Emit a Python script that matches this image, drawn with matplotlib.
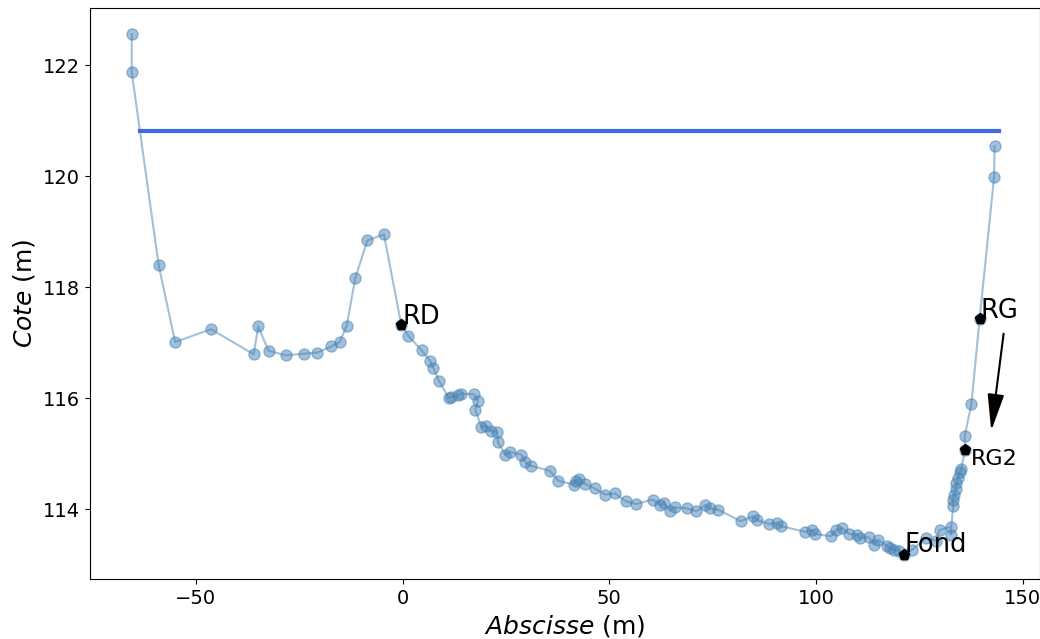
import matplotlib
matplotlib.use('Agg')
import matplotlib.pyplot as plt

# profil en travers (abscisse en m, cote en m)
abscisse = [-65.5, -65.5, -59.0, -55.0, -46.3, -36.0, -34.9, -32.4, -28.1, -23.9,
            -20.6, -17.2, -15.2, -13.5, -11.4, -8.5, -4.5, -0.3, 1.45, 4.6,
            6.7, 7.4, 8.9, 11.2, 11.8, 13.4, 14.2, 17.2, 18.3, 17.6,
            19.1, 20.2, 21.5, 22.9, 23.1, 24.9, 26.1, 28.7, 29.7, 31.0,
            35.6, 37.7, 41.4, 41.9, 42.7, 44.1, 46.5, 49.1, 51.4, 54.0,
            56.5, 60.5, 62.4, 63.2, 64.7, 65.8, 68.8, 71.1, 73.2, 74.3,
            76.3, 81.8, 84.8, 85.8, 88.6, 90.5, 91.6, 97.4, 99.1, 99.8,
            103.6, 104.9, 106.3, 108.1, 110.0, 110.6, 112.8, 114.0, 115.0, 117.2,
            117.8, 118.8, 120.0, 121.3, 123.3, 126.7, 129.1, 129.9, 132.6, 132.6,
            133.2, 133.2, 133.5, 133.8, 134.0, 134.4, 134.8, 135.2, 136.0, 136.0,
            137.6, 139.6, 143.1, 143.2]
cote = [122.56, 121.88, 118.40, 117.01, 117.24, 116.79, 117.29, 116.85, 116.77, 116.80,
        116.82, 116.93, 117.01, 117.30, 118.17, 118.84, 118.95, 117.32, 117.12, 116.86,
        116.67, 116.55, 116.30, 116.00, 116.02, 116.05, 116.08, 116.07, 115.95, 115.79,
        115.48, 115.50, 115.40, 115.39, 115.20, 114.97, 115.03, 114.98, 114.84, 114.78,
        114.69, 114.51, 114.44, 114.51, 114.55, 114.45, 114.37, 114.26, 114.28, 114.14,
        114.09, 114.17, 114.07, 114.11, 113.97, 114.03, 114.01, 113.96, 114.07, 114.01,
        113.99, 113.78, 113.87, 113.80, 113.73, 113.75, 113.69, 113.59, 113.62, 113.55,
        113.51, 113.62, 113.66, 113.55, 113.54, 113.48, 113.49, 113.36, 113.45, 113.33,
        113.30, 113.27, 113.25, 113.18, 113.27, 113.48, 113.43, 113.62, 113.68, 113.54,
        114.05, 114.17, 114.26, 114.36, 114.47, 114.56, 114.66, 114.72, 115.06, 115.32,
        115.89, 117.43, 119.99, 120.54]

# niveau d'eau
niveau_x = [-63.4, 144.4]
niveau = 120.82

# points remarquables
noms = ['RD', 'RG', 'Fond', 'RG2']
pts_x = [-0.3, 139.6, 121.3, 136.0]
pts_y = [117.32, 117.43, 113.18, 115.06]

fig = plt.figure(figsize=(10.4, 6.39), dpi=100)
ax = fig.add_axes([0.0861, 0.094, 0.9139, 0.8935])

ax.plot(abscisse, cote, '-o', color='steelblue', alpha=0.5, markersize=8, lw=1.5)
ax.plot(niveau_x, [niveau, niveau], color='royalblue', lw=3)
ax.plot(pts_x, pts_y, 'p', color='black', markersize=8)

ax.text(pts_x[0] + 0.2, pts_y[0] + 0.02, noms[0], fontsize=18.5)
ax.text(pts_x[1] + 0.2, pts_y[1] + 0.02, noms[1], fontsize=18.5)
ax.text(pts_x[2] + 0.2, pts_y[2] + 0.04, noms[2], fontsize=18.5)
ax.text(pts_x[3] + 1.6, pts_y[3] - 0.26, noms[3], fontsize=16)

ax.annotate('', xy=(142.4, 115.41), xytext=(145.4, 117.16),
            arrowprops=dict(arrowstyle='-|>,head_length=0.75,head_width=0.17',
                            color='black', lw=1.5, mutation_scale=30,
                            shrinkA=0, shrinkB=0))

ax.set_xlim(-75.7, 154.2)
ax.set_ylim(112.74, 123.03)
ax.tick_params(labelsize=14)
ax.set_xlabel(r'$\it{Abscisse}$ (m)', fontsize=18)
ax.set_ylabel(r'$\it{Cote}$ (m)', fontsize=18)

fig.savefig('out.png', dpi=100)
